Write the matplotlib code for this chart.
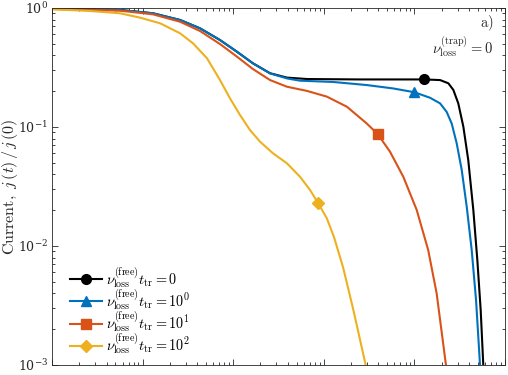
import numpy as np
import matplotlib
matplotlib.use("Agg")
import matplotlib.pyplot as plt
from matplotlib.ticker import LogLocator, NullFormatter

plt.rcParams['mathtext.fontset'] = 'cm'
plt.rcParams['font.family'] = 'DejaVu Serif'

# ---- data ----
x_black = [0.01, 0.0263, 0.0563, 0.130, 0.259, 0.430, 0.715, 1.10, 1.65, 2.55, 3.92, 6.53,
           25.1, 129, 192, 237, 269, 305, 347, 393, 447, 495, 539, 576]
y_black = [0.985, 0.970, 0.962, 0.903, 0.793, 0.675, 0.538, 0.429, 0.343, 0.283, 0.260, 0.253,
           0.251, 0.251, 0.248, 0.233, 0.205, 0.158, 0.1006, 0.0528, 0.0201, 0.00763, 0.00290, 0.001]

x_blue = [0.01, 0.0263, 0.0563, 0.130, 0.259, 0.430, 0.715, 1.10, 1.65, 2.55, 3.92, 5.46,
          12.7, 30.0, 58.0, 99.7, 149, 192, 227, 258, 293, 333, 378, 429, 479, 530]
y_blue = [0.985, 0.970, 0.962, 0.903, 0.793, 0.675, 0.538, 0.429, 0.343, 0.282, 0.256, 0.245,
          0.239, 0.225, 0.211, 0.196, 0.176, 0.158, 0.134, 0.107, 0.0729, 0.0435, 0.0214, 0.00925, 0.00352, 0.001]

x_red = [0.01, 0.0263, 0.0563, 0.130, 0.259, 0.430, 0.715, 1.10, 1.65, 2.55, 3.92, 6.53,
         10.8, 18.0, 29.8, 39.3, 53.8, 75.4, 106, 142, 176, 223]
y_red = [0.981, 0.962, 0.949, 0.885, 0.767, 0.641, 0.498, 0.390, 0.307, 0.248, 0.218, 0.201,
         0.180, 0.148, 0.107, 0.0873, 0.0620, 0.0382, 0.0201, 0.00925, 0.00400, 0.001]

x_yel = [0.01, 0.0263, 0.0563, 0.0936, 0.156, 0.259, 0.360, 0.514, 0.715, 0.922, 1.19, 1.53,
         1.98, 2.75, 3.92, 5.46, 7.04, 8.70, 10.8, 13.0, 16.4, 21.2, 29.0]
y_yel = [0.975, 0.944, 0.903, 0.830, 0.744, 0.613, 0.505, 0.378, 0.248, 0.174, 0.126, 0.0944,
         0.0752, 0.0601, 0.0495, 0.0382, 0.0296, 0.0228, 0.0171, 0.0118, 0.00653, 0.00290, 0.001]

marker_x = [129, 99.7, 39.3, 8.70]
marker_y = [0.251, 0.196, 0.0873, 0.0228]

labels = [r'$\nu_{\rm loss}^{\rm (free)}t_{\rm tr} = 0$',
          r'$\nu_{\rm loss}^{\rm (free)}t_{\rm tr} = 10^0$',
          r'$\nu_{\rm loss}^{\rm (free)}t_{\rm tr} = 10^1$',
          r'$\nu_{\rm loss}^{\rm (free)}t_{\rm tr} = 10^2$']

colors = ['#000000', '#0072BD', '#D95319', '#EDB120']
markers = ['o', '^', 's', 'D']
msizes = [7, 7.5, 6.5, 6]

fig = plt.figure(figsize=(5.08, 3.75), dpi=100)
ax = fig.add_axes([52/508, 10/375, 453/508, 357/375])

series = [(x_black, y_black), (x_blue, y_blue), (x_red, y_red), (x_yel, y_yel)]
for i, (xs, ys) in enumerate(series):
    ax.plot(xs, ys, color=colors[i], lw=1.5, solid_joinstyle='round')
    ax.plot([marker_x[i]], [marker_y[i]], color=colors[i],
            marker=markers[i], ms=msizes[i], linestyle='none')
    ax.plot([], [], color=colors[i], lw=1.5, marker=markers[i], ms=msizes[i], label=labels[i])

ax.set_xscale('log')
ax.set_yscale('log')
ax.set_xlim(1e-2, 1e3)
ax.set_ylim(1e-3, 1)

axc = '#262626'
for s in ax.spines.values():
    s.set_color(axc)
    s.set_linewidth(0.6)
ax.tick_params(which='both', direction='in', top=True, right=True, colors=axc,
               labelbottom=False, labelsize=9, width=0.6, pad=3)
ax.tick_params(which='major', length=4)
ax.tick_params(which='minor', length=2.5)
ax.xaxis.set_minor_locator(LogLocator(base=10, subs=np.arange(2, 10), numticks=20))
ax.yaxis.set_minor_locator(LogLocator(base=10, subs=np.arange(2, 10), numticks=20))
ax.xaxis.set_minor_formatter(NullFormatter())
ax.yaxis.set_minor_formatter(NullFormatter())

ax.set_ylabel(r'$\mathrm{Current,}\ j\,(t)\,/\,j\,(0)$', fontsize=11.5, color=axc)
ax.yaxis.set_label_coords(-0.071, 0.5)

ax.text(0.974, 0.957, r'$\mathrm{a)}$', transform=ax.transAxes, ha='right', va='center', fontsize=10.5, color=axc)
ax.text(0.974, 0.892, r'$\nu_{\rm loss}^{\rm (trap)} = 0$', transform=ax.transAxes, ha='right', va='center', fontsize=10.5, color=axc)

leg = ax.legend(loc='upper left', bbox_to_anchor=(0.04, 0.28), frameon=False, fontsize=10.3,
                borderpad=0, borderaxespad=0, handlelength=2.2, handletextpad=0.3,
                labelspacing=-0.17, numpoints=1)

fig.savefig('out.png', dpi=100)
